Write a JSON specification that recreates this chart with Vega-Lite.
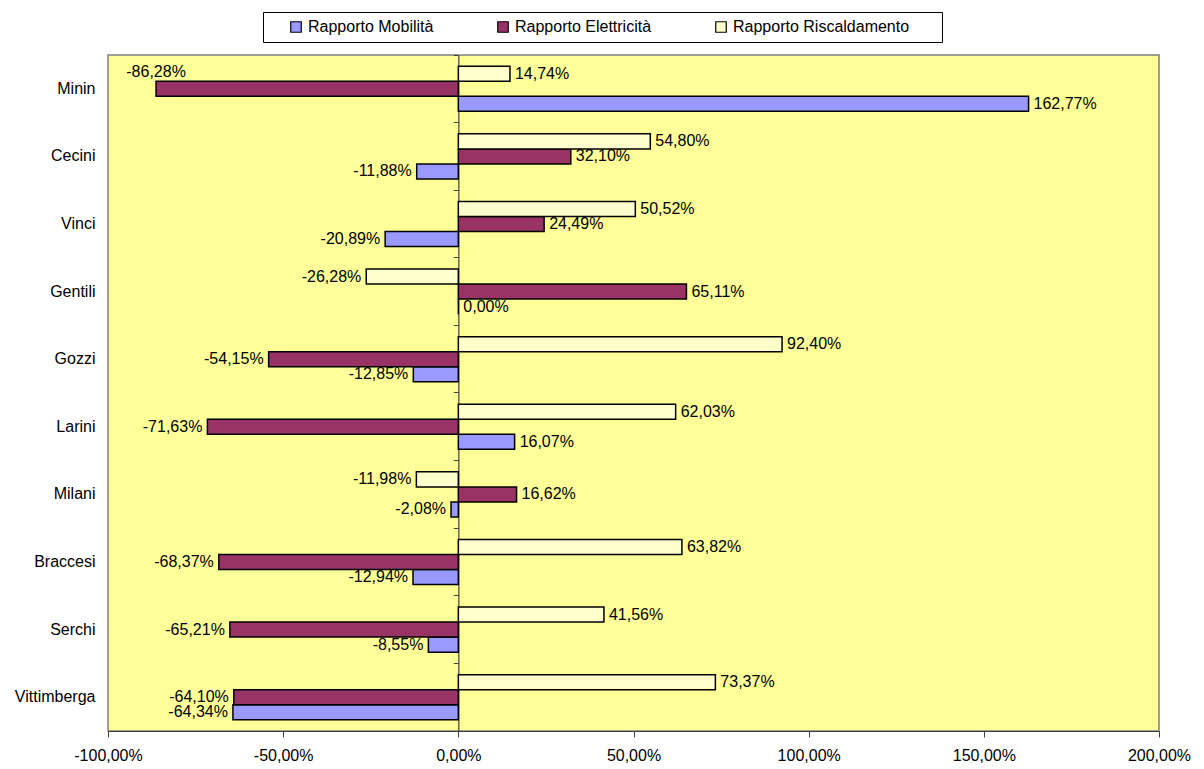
{
  "$schema": "https://vega.github.io/schema/vega-lite/v6.json",
  "width": 1051,
  "height": 676,
  "autosize": {"type": "none"},
  "padding": {"left": 108, "top": 55, "right": 45, "bottom": 38},
  "background": "white",
  "config": {
    "locale": {"number": {"decimal": ",", "thousands": ".", "grouping": [3], "currency": ["€", ""], "minus": "-"}},
    "view": {"fill": "#FFFF99", "stroke": "#808080", "strokeWidth": 1.5},
    "font": "Liberation Sans",
    "axis": {"labelFont": "Liberation Sans", "labelFontSize": 16, "labelColor": "black", "grid": false, "title": null},
    "legend": {
      "orient": "none", "legendX": 155, "legendY": -43, "direction": "horizontal",
      "strokeColor": "black", "fillColor": "white", "padding": 7,
      "symbolType": "square", "symbolSize": 110, "symbolStrokeColor": "black", "symbolStrokeWidth": 1.2,
      "labelFontSize": 16, "labelFont": "Liberation Sans", "labelColor": "black", "labelLimit": 0,
      "columnPadding": 43, "labelOffset": 4, "symbolOffset": 18,
      "titleOrient": "right", "titlePadding": 26, "titleFontSize": 16
    }
  },
  "data": {"values": [
    {"Condominio": "Minin", "Serie": "Rapporto Mobilità", "Valore": 1.6277},
    {"Condominio": "Minin", "Serie": "Rapporto Elettricità", "Valore": -0.8628},
    {"Condominio": "Minin", "Serie": "Rapporto Riscaldamento", "Valore": 0.1474},
    {"Condominio": "Cecini", "Serie": "Rapporto Mobilità", "Valore": -0.1188},
    {"Condominio": "Cecini", "Serie": "Rapporto Elettricità", "Valore": 0.3210},
    {"Condominio": "Cecini", "Serie": "Rapporto Riscaldamento", "Valore": 0.5480},
    {"Condominio": "Vinci", "Serie": "Rapporto Mobilità", "Valore": -0.2089},
    {"Condominio": "Vinci", "Serie": "Rapporto Elettricità", "Valore": 0.2449},
    {"Condominio": "Vinci", "Serie": "Rapporto Riscaldamento", "Valore": 0.5052},
    {"Condominio": "Gentili", "Serie": "Rapporto Mobilità", "Valore": 0.0},
    {"Condominio": "Gentili", "Serie": "Rapporto Elettricità", "Valore": 0.6511},
    {"Condominio": "Gentili", "Serie": "Rapporto Riscaldamento", "Valore": -0.2628},
    {"Condominio": "Gozzi", "Serie": "Rapporto Mobilità", "Valore": -0.1285},
    {"Condominio": "Gozzi", "Serie": "Rapporto Elettricità", "Valore": -0.5415},
    {"Condominio": "Gozzi", "Serie": "Rapporto Riscaldamento", "Valore": 0.9240},
    {"Condominio": "Larini", "Serie": "Rapporto Mobilità", "Valore": 0.1607},
    {"Condominio": "Larini", "Serie": "Rapporto Elettricità", "Valore": -0.7163},
    {"Condominio": "Larini", "Serie": "Rapporto Riscaldamento", "Valore": 0.6203},
    {"Condominio": "Milani", "Serie": "Rapporto Mobilità", "Valore": -0.0208},
    {"Condominio": "Milani", "Serie": "Rapporto Elettricità", "Valore": 0.1662},
    {"Condominio": "Milani", "Serie": "Rapporto Riscaldamento", "Valore": -0.1198},
    {"Condominio": "Braccesi", "Serie": "Rapporto Mobilità", "Valore": -0.1294},
    {"Condominio": "Braccesi", "Serie": "Rapporto Elettricità", "Valore": -0.6837},
    {"Condominio": "Braccesi", "Serie": "Rapporto Riscaldamento", "Valore": 0.6382},
    {"Condominio": "Serchi", "Serie": "Rapporto Mobilità", "Valore": -0.0855},
    {"Condominio": "Serchi", "Serie": "Rapporto Elettricità", "Valore": -0.6521},
    {"Condominio": "Serchi", "Serie": "Rapporto Riscaldamento", "Valore": 0.4156},
    {"Condominio": "Vittimberga", "Serie": "Rapporto Mobilità", "Valore": -0.6434},
    {"Condominio": "Vittimberga", "Serie": "Rapporto Elettricità", "Valore": -0.6410},
    {"Condominio": "Vittimberga", "Serie": "Rapporto Riscaldamento", "Valore": 0.7337}
  ]},
  "encoding": {
    "y": {"field": "Condominio", "type": "nominal", "sort": null, "axis": null,
          "scale": {"paddingInner": 0.3333, "paddingOuter": 0.1667}},
    "x": {"field": "Valore", "type": "quantitative", "stack": null,
          "scale": {"domain": [-1, 2], "nice": false, "zero": false},
          "axis": {"values": [-1, -0.5, 0, 0.5, 1, 1.5, 2], "format": ".2%", "tickSize": 6,
                   "tickColor": "#404040", "domainColor": "#404040", "domainWidth": 1.2,
                   "labelPadding": 10, "labelFlush": false}},
    "yOffset": {"field": "Serie", "type": "nominal",
                "sort": ["Rapporto Riscaldamento", "Rapporto Elettricità", "Rapporto Mobilità"],
                "scale": {"paddingInner": 0, "paddingOuter": 0}}
  },
  "layer": [
    {
      "mark": {"type": "bar", "stroke": "black", "strokeWidth": 1.5},
      "encoding": {
        "y": {"field": "Condominio", "type": "nominal", "sort": null,
              "scale": {"paddingInner": 0.3333, "paddingOuter": 0.1667},
              "axis": {"orient": "left", "ticks": false, "domain": false, "labelPadding": 13, "labelFontSize": 16}},
        "color": {"field": "Serie", "type": "nominal",
                  "scale": {"domain": ["Rapporto Mobilità", "Rapporto Elettricità", "Rapporto Riscaldamento"],
                            "range": ["#9999FF", "#993366", "#FFFFCC"]},
                  "legend": {"title": " "}}
      }
    },
    {
      "transform": [{"filter": "datum.Valore >= 0"}],
      "mark": {"type": "text", "align": "left", "baseline": "middle", "dx": 5, "fontSize": 16, "color": "black"},
      "encoding": {
        "y": {"field": "Condominio", "type": "nominal", "sort": null,
              "scale": {"paddingInner": 0.3333, "paddingOuter": 0.1667},
              "axis": {"orient": "left", "offset": -350.33, "labels": false, "ticks": true, "tickSize": 5,
                       "tickColor": "#404040", "domain": true, "domainColor": "#404040", "domainWidth": 1.2,
                       "bandPosition": -0.25}},
        "text": {"field": "Valore", "type": "quantitative", "format": ".2%"}
      }
    },
    {
      "transform": [{"filter": "datum.Valore < 0 && !(datum.Condominio == 'Minin' && datum.Serie == 'Rapporto Elettricità')"}],
      "mark": {"type": "text", "align": "right", "baseline": "middle", "dx": -5, "fontSize": 16, "color": "black"},
      "encoding": {
        "text": {"field": "Valore", "type": "quantitative", "format": ".2%"}
      }
    },
    {
      "transform": [{"filter": "datum.Condominio == 'Minin' && datum.Serie == 'Rapporto Elettricità'"}],
      "mark": {"type": "text", "align": "center", "baseline": "middle", "dy": -17, "fontSize": 16, "color": "black"},
      "encoding": {
        "text": {"field": "Valore", "type": "quantitative", "format": ".2%"}
      }
    }
  ],
  "resolve": {"axis": {"y": "independent"}}
}
